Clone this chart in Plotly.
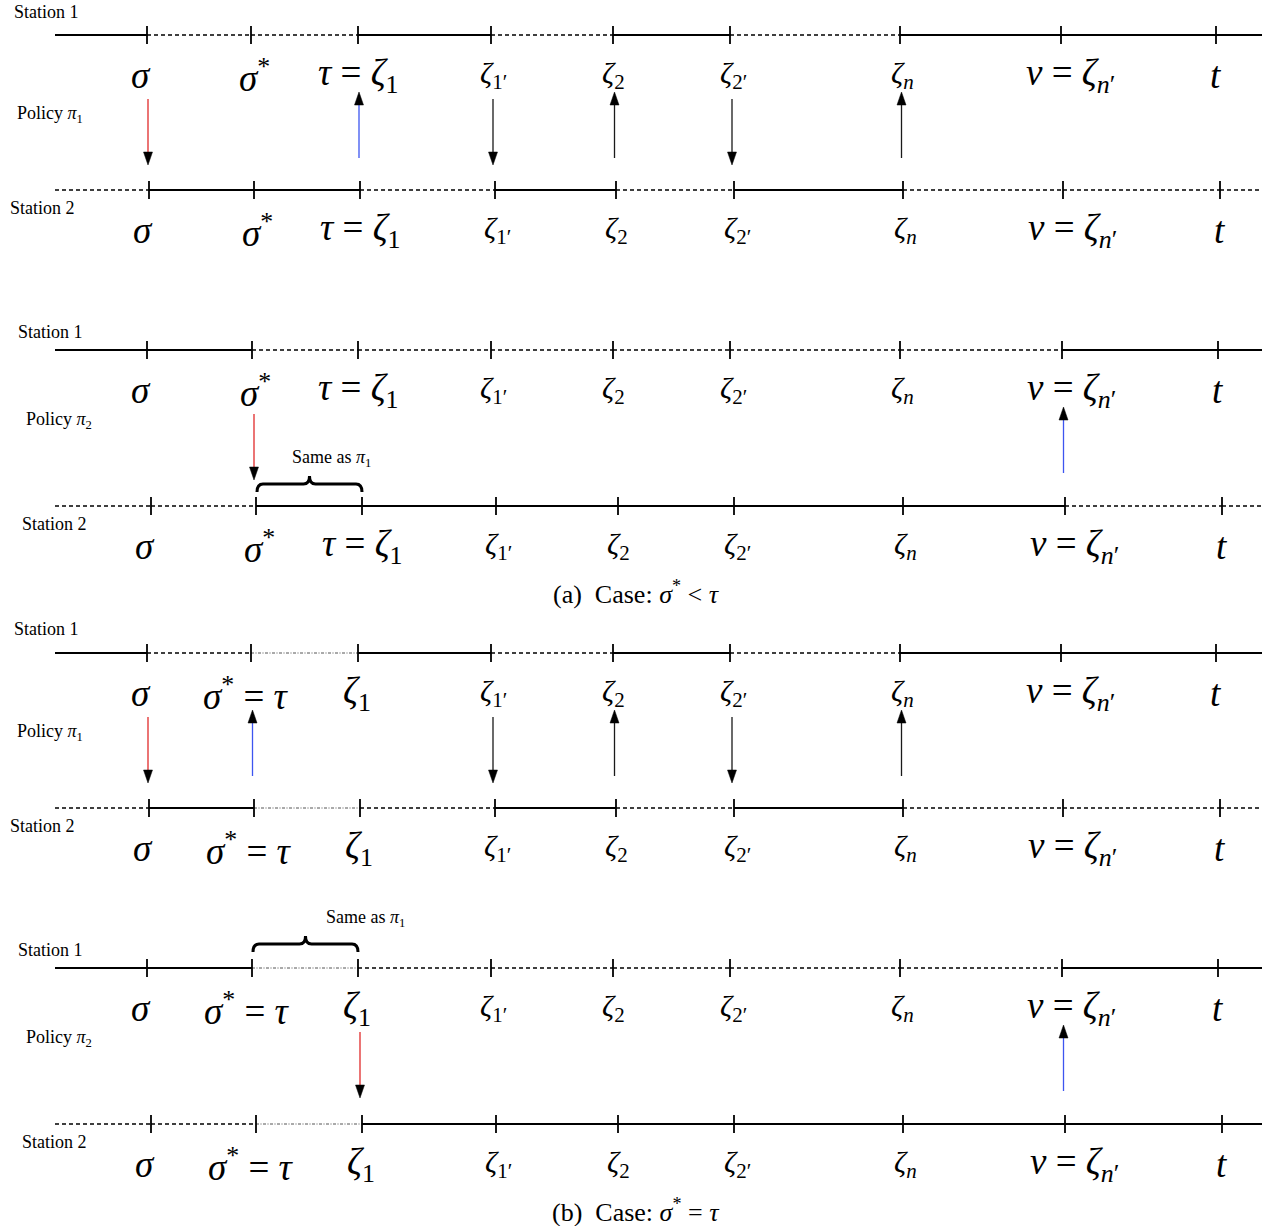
import plotly.graph_objects as go

# ---------------- data ----------------
# time points (tick positions along each station line), per row type
T_S1_P1 = [147, 251, 358, 491, 613, 730, 900, 1061, 1216]
T_S2_P1 = [149, 254, 360, 495, 616, 734, 903, 1063, 1220]
T_S1_P2 = [147, 252, 358, 491, 613, 730, 900, 1062, 1218]
T_S2_P2 = [151, 256, 362, 496, 618, 734, 903, 1065, 1222]

LINE_START, LINE_END = 55, 1262

LABELS_A = ["<i>σ</i>", "<i>σ</i><sup>*</sup>", "<i>τ</i> = <i>ζ</i><sub>1</sub>",
            "<i>ζ</i><sub>1′</sub>", "<i>ζ</i><sub>2</sub>", "<i>ζ</i><sub>2′</sub>",
            "<i>ζ</i><sub><i>n</i></sub>", "<i>ν</i> = <i>ζ</i><sub><i>n</i>′</sub>", "<i>t</i>"]
LABELS_B = ["<i>σ</i>", "<i>σ</i><sup>*</sup> = <i>τ</i>", "<i>ζ</i><sub>1</sub>",
            "<i>ζ</i><sub>1′</sub>", "<i>ζ</i><sub>2</sub>", "<i>ζ</i><sub>2′</sub>",
            "<i>ζ</i><sub><i>n</i></sub>", "<i>ν</i> = <i>ζ</i><sub><i>n</i>′</sub>", "<i>t</i>"]
LABEL_BIG = [True, True, True, False, False, False, False, True, True]
LABEL_DX_A = [-6, 3, 0, 2, 0, 3, 2, 9, 0]
LABEL_DX_B = [-6, -5, -1, 2, 0, 3, 2, 9, 0]

# segment styles between consecutive points (start, t1..t9, end) -> 10 intervals
S = "solid"; D = "dash"; DD = "dashdot"
SEG_A1_S1 = [S, D, D, S, D, S, D, S, S, S]
SEG_A1_S2 = [D, S, S, D, S, D, S, D, D, D]
SEG_A2_S1 = [S, S, D, D, D, D, D, D, S, S]
SEG_A2_S2 = [D, D, S, S, S, S, S, S, D, D]
SEG_B1_S1 = [S, D, DD, S, D, S, D, S, S, S]
SEG_B1_S2 = [D, S, DD, D, S, D, S, D, D, D]
SEG_B2_S1 = [S, S, DD, D, D, D, D, D, S, S]
SEG_B2_S2 = [D, D, DD, S, S, S, S, S, S, S]

# switching arrows: (time-point index, direction, colour)
ARROWS_P1 = [(0, "down", "red"), (2, "up", "blue"), (3, "down", "black"),
             (4, "up", "black"), (5, "down", "black"), (6, "up", "black")]
ARROWS_A2 = [(1, "down", "red"), (7, "up", "blue")]
ARROWS_B1 = [(0, "down", "red"), (1, "up", "blue"), (3, "down", "black"),
             (4, "up", "black"), (5, "down", "black"), (6, "up", "black")]
ARROWS_B2 = [(2, "down", "red"), (7, "up", "blue")]

# brace "Same as π1": (from index, to index)
BRACE_A2 = (1, 2)
BRACE_B2 = (1, 2)

CAPTION_A = "(a)  Case: <i>σ</i><sup>*</sup> &lt; <i>τ</i>"
CAPTION_B = "(b)  Case: <i>σ</i><sup>*</sup> = <i>τ</i>"

# ---------------- layout / styles ----------------
COLORS = {"red": "#e02a2a", "blue": "#3d55f0", "black": "#1a1a1a"}
FONT = "Liberation Serif, Times New Roman, DejaVu Serif, serif"
BIG_SIZE, SMALL_SIZE = 37, 30

PANELS = [
    dict(s1y=35, s2y=190, t1=T_S1_P1, t2=T_S2_P1, seg1=SEG_A1_S1, seg2=SEG_A1_S2,
         labels=LABELS_A, ldx=LABEL_DX_A, arrows=ARROWS_P1, policy="Policy <i>π</i><sub>1</sub>",
         st1=(12, 12), pol=(15, 114), st2=(8, 208), brace=None),
    dict(s1y=350, s2y=506, t1=T_S1_P2, t2=T_S2_P2, seg1=SEG_A2_S1, seg2=SEG_A2_S2,
         labels=LABELS_A, ldx=LABEL_DX_A, arrows=ARROWS_A2, policy="Policy <i>π</i><sub>2</sub>",
         st1=(16, 332), pol=(24, 420), st2=(20, 524), brace=("s2", BRACE_A2, 22)),
    dict(s1y=653, s2y=808, t1=T_S1_P1, t2=T_S2_P1, seg1=SEG_B1_S1, seg2=SEG_B1_S2,
         labels=LABELS_B, ldx=LABEL_DX_B, arrows=ARROWS_B1, policy="Policy <i>π</i><sub>1</sub>",
         st1=(12, 629), pol=(15, 732), st2=(8, 826), brace=None),
    dict(s1y=968, s2y=1124, t1=T_S1_P2, t2=T_S2_P2, seg1=SEG_B2_S1, seg2=SEG_B2_S2,
         labels=LABELS_B, ldx=LABEL_DX_B, arrows=ARROWS_B2, policy="Policy <i>π</i><sub>2</sub>",
         st1=(16, 950), pol=(24, 1038), st2=(20, 1142), brace=("s1", BRACE_B2, 60)),
]

shapes = []
annotations = []


def seg_line(x0, x1, y, style):
    if style == S:
        line = dict(color="black", width=1.8)
    elif style == D:
        line = dict(color="black", width=1.5, dash="4px,3px")
    else:
        line = dict(color="#555555", width=1.0, dash="3px,1.5px,1px,1.5px")
    shapes.append(dict(type="line", xref="x", yref="y", x0=x0, x1=x1, y0=y, y1=y, line=line))


def station_row(ts, segs, y, labels, ldx):
    pts = [LINE_START] + ts + [LINE_END]
    for i, st in enumerate(segs):
        seg_line(pts[i], pts[i + 1], y, st)
    for x in ts:
        shapes.append(dict(type="line", xref="x", yref="y", x0=x, x1=x, y0=y - 9, y1=y + 9,
                           line=dict(color="black", width=1.8)))
    for x, lab, big, dx in zip(ts, labels, LABEL_BIG, ldx):
        annotations.append(dict(x=x + dx, y=y + 40, xref="x", yref="y", text=lab,
                                showarrow=False, xanchor="center", yanchor="middle",
                                font=dict(family=FONT, size=BIG_SIZE if big else SMALL_SIZE,
                                          color="black")))


def small_text(x, y, txt, anchor="left"):
    annotations.append(dict(x=x, y=y, xref="x", yref="y", text=txt, showarrow=False,
                            xanchor=anchor, yanchor="middle",
                            font=dict(family=FONT, size=18, color="black")))


for p in PANELS:
    station_row(p["t1"], p["seg1"], p["s1y"], p["labels"], p["ldx"])
    station_row(p["t2"], p["seg2"], p["s2y"], p["labels"], p["ldx"])
    small_text(p["st1"][0], p["st1"][1], "Station 1")
    small_text(p["pol"][0], p["pol"][1], p["policy"])
    small_text(p["st2"][0], p["st2"][1], "Station 2")

    # arrows
    for idx, direction, col in p["arrows"]:
        x = (p["t1"][idx] + p["t2"][idx]) / 2
        if direction == "down":
            y_tail, y_tip = p["s1y"] + 64, p["s1y"] + 130
            y_base = y_tip - 13
        else:
            y_tail, y_tip = p["s1y"] + 123, p["s1y"] + 57
            y_base = y_tip + 13
        shapes.append(dict(type="line", xref="x", yref="y", x0=x, x1=x, y0=y_tail, y1=y_base,
                           line=dict(color=COLORS[col], width=1.3)))
        shapes.append(dict(type="path", xref="x", yref="y",
                           path=f"M{x-4.5},{y_base} L{x+4.5},{y_base} L{x},{y_tip} Z",
                           fillcolor="black", line=dict(color="black", width=0.5)))

    # brace
    if p["brace"] is not None:
        which, (i0, i1), tdx = p["brace"]
        ts = p["t2"] if which == "s2" else p["t1"]
        ybase = p["s2y"] - 14 if which == "s2" else p["s1y"] - 16
        x0, x1 = ts[i0] + 1, ts[i1]
        xm = (x0 + x1) / 2
        yb, ym, yt = ybase, ybase - 8, ybase - 16
        r = 6
        path = (f"M{x0},{yb} Q{x0},{ym} {x0+r},{ym} L{xm-r},{ym} Q{xm},{ym} {xm},{yt} "
                f"Q{xm},{ym} {xm+r},{ym} L{x1-r},{ym} Q{x1},{ym} {x1},{yb}")
        shapes.append(dict(type="path", xref="x", yref="y", path=path,
                           line=dict(color="black", width=3)))
        small_text(xm + tdx, yt - 18, "Same as <i>π</i><sub>1</sub>", anchor="center")

annotations.append(dict(x=636, y=592, xref="x", yref="y", text=CAPTION_A, showarrow=False,
                        xanchor="center", yanchor="middle",
                        font=dict(family=FONT, size=26, color="black")))
annotations.append(dict(x=636, y=1210, xref="x", yref="y", text=CAPTION_B, showarrow=False,
                        xanchor="center", yanchor="middle",
                        font=dict(family=FONT, size=26, color="black")))

fig = go.Figure()
fig.update_layout(
    width=1283, height=1226, margin=dict(l=0, r=0, t=0, b=0),
    paper_bgcolor="white", plot_bgcolor="white", showlegend=False,
    font=dict(family=FONT),
    xaxis=dict(range=[0, 1283], visible=False, fixedrange=True),
    yaxis=dict(range=[1226, 0], visible=False, fixedrange=True),
    shapes=shapes, annotations=annotations,
)
fig.write_html("out.html")
